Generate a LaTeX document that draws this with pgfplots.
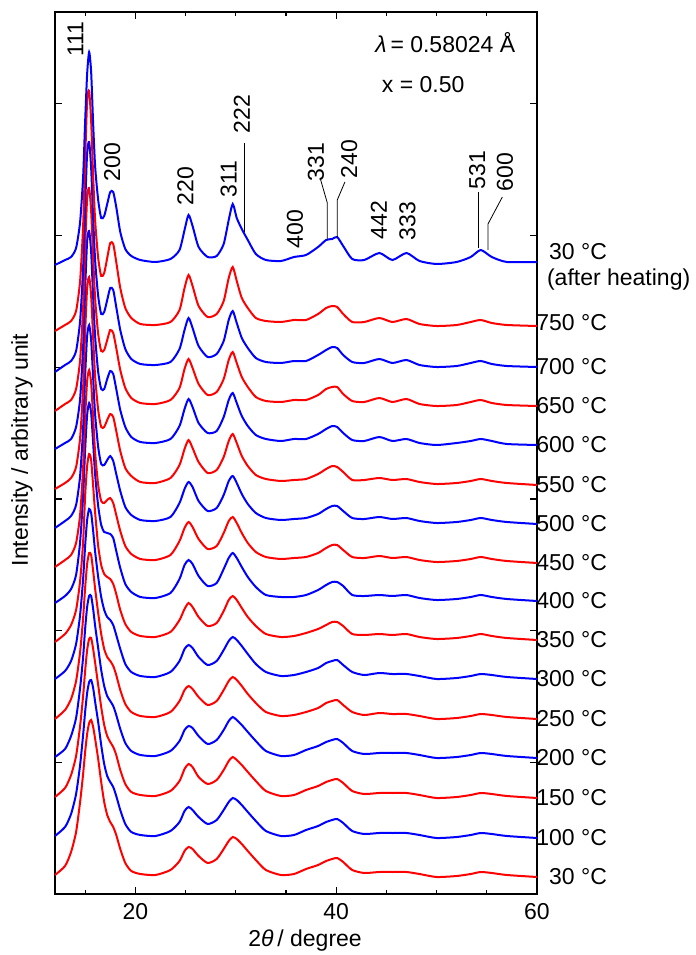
\documentclass[border=0pt]{standalone}
\usepackage{pgfplots}
\pgfplotsset{compat=1.18}
\usepackage{pgfplotstable}
\usepackage{fontspec}
\setmainfont{Liberation Sans}

% relative intensities, one column per temperature (baseline = 0 at 60 deg)
\pgfplotstableread{
x    a30h c750 c700 c650 c600 c550 c500 c450 c400 c350 c300 c250 c200 c150 c100 c30
12    -3  -5  -5  -5  -4  -4  -4  -4  -2  -2   0   0   1   1   2   2
13     2   1   2   2   2   2   3   3   5   6   8   9   9  10  11  11
13.6   5   5   6   6   6   7   8   8  12  15  18  20  22  23  24  25
14.1  14  15  16  17  18  18  19  20  26  30  35  38  40  42  44  45
14.5  40  45  46  46  46  47  48  48  59  59  64  67  70  72  73  75
14.8  85 100  99  98  98  97  96  95 105  98 100 101 101 102 103 103
15.0 140 165 160 157 155 152 148 145 151 144 133 131 129 127 126 125
15.2 188 225 214 208 204 197 188 182 186 174 159 155 151 148 145 143
15.4 210 235 225 218 214 208 199 193 198 186 170 166 162 159 156 154
15.6 190 205 199 195 193 189 184 180 188 180 166 164 162 160 158 157
15.8 138 150 149 148 148 147 146 145 158 154 148 148 149 149 150 150
16.0  95 105 106 107 108 108 109 110 126 127 127 130 132 135 136 138
16.3  62  68  71  72  73  75  77  78  95  94 102 106 110 113 116 118
16.6  44  50  53  55  56  58  60  62  76  75  82  85  88  91  93  95
16.9  46  53  55  56  56  58  59  60  69  66  69  70  72  73  74  75
17.2  58  68  67  66  66  65  64  63  68  63  62  62  62  62  62  62
17.5  70  83  79  76  74  71  68  65  67  61  59  58  57  56  56  55
17.8  70  82  77  73  71  68  63  60  63  56  54  53  52  51  51  50
18.1  55  64  60  58  56  54  50  48  50  46  44  44  43  43  42  42
18.5  30  38  37  36  35  34  33  32  33  30  30  29  29  28  28  28
19.0  13  18  18  18  18  17  17  17  17  16  15  15  15  14  14  14
19.6   6   8   8   8   8   9   9   9   9   8   7   7   7   6   6   6
20.5   2   2   3   3   3   3   4   4   4   4   3   3   3   3   3   3
22     0   1   2   2   2   2   3   3   3   3   2   2   2   2   2   2
23.5   3   4   5   6   6   7   7   8   8   8   7   7   7   7   7   7
24.4  12  16  18  18  19  20  21  22  22  20  18  18  17  17  16  16
24.9  32  38  37  37  36  36  35  35  36  31  30  29  28  29  27  26
25.3  47  51  49  47  46  45  42  41  41  37  34  33  32  34  31  30
25.7  36  40  39  38  38  37  37  36  37  33  31  30  30  31  28  28
26.3  15  20  21  22  22  23  23  24  25  23  22  22  22  21  21  21
27.2   5   9  10  11  12  12  13  14  15  14  14  14  14  14  14  14
28.1   6  12  13  14  14  15  16  17  18  17  18  18  18  18  18  18
28.8  18  25  26  27  28  28  29  30  32  29  29  29  28  28  28  28
29.3  42  48  47  46  45  44  43  42  43  40  38  38  37  37  36  36
29.7  58  59  56  54  52  51  48  46  48  44  42  42  41  41  40  40
30.1  44  45  44  43  42  42  41  40  43  40  39  39  38  38  38  38
30.6  33  28  29  29  29  29  30  30  34  32  33  33  33  33  33  33
31.2  22  18  19  19  19  19  20  20  24  23  25  25  26  26  26  26
32.0   8   8   9   9  10  10  11  11  14  14  15  16  17  17  17  17
33.0   2   5   5   5   6   6   6   6   6   6   7   7   7   7   7   7
34.5   1   4   4   4   4   4   4   4   4   3   3   3   2   2   2   2
35.8   5   6   6   6   6   5   5   5   4   4   4   4   3   3   3   3
37.0   7   6   6   6   6   6   6   6   6   7   7   7   8   8   8   8
38.2  15  12  12  11  11  11  10  10  11  11  11  11  12  12  12  12
39.0  22  18  17  17  16  16  15  15  16  15  16  16  16  16  16  16
39.6  23  20  20  19  19  19  18  18  19  18  18  18  18  18  18  18
40.1  25  19  19  19  18  18  18  18  19  18  19  19  19  19  19  19
40.7  16  12  12  12  12  13  13  13  15  14  14  14  15  15  15  15
41.6   3   4   5   5   5   5   6   6   6   6   7   7   7   7   7   7
42.8   2   4   4   4   4   5   5   5   5   5   4   4   4   4   4   4
44.3   9   8   8   8   8   7   7   7   6   6   6   6   5   5   5   5
45.6   2   4   4   4   4   5   5   5   5   5   5   5   5   5   5   5
47.0   9   7   7   7   6   6   6   6   6   6   5   5   5   5   5   5
48.3   1   2   2   2   2   3   3   3   3   3   3   3   3   3   3   3
50.0  -2   0   0   0   0   1   1   1   1   1   0   0   0   0   0   0
52.0   0   1   1   1   2   2   2   2   2   2   1   1   1   1   1   1
53.4   5   4   4   4   4   4   4   4   4   4   3   3   3   3   3   3
54.4  12   6   6   6   6   6   6   6   6   6   5   5   5   5   5   5
55.5   5   3   3   3   4   4   4   4   4   4   4   4   4   4   4   4
57.0   0   1   1   1   1   2   2   2   2   2   2   2   2   2   2   2
60     0   0   0   0   0   0   0   0   0   0   0   0   0   0   0   0
}\xrd

\begin{document}
\begin{tikzpicture}[lbl/.style={font=\fontsize{11.5}{13}\selectfont},
                    tl/.style={lbl, anchor=east, xshift=38.5pt}]
\begin{axis}[
    at={(0,0)}, anchor=south west,
    scale only axis, width=241pt, height=441pt,
    xmin=12, xmax=60, ymin=0, ymax=882,
    xtick={20,40,60}, minor xtick={15,25,30,35,45,50,55},
    ytick={131.7,263.4,395.1,526.8,658.5,790.2}, yticklabels={},
    tick align=inside,
    major tick length=3.5pt, minor tick length=2pt,
    tick style={black, line width=0.6pt},
    axis line style={line width=0.75pt},
    /pgf/number format/assume math mode=true,
    ticklabel style={font=\fontsize{11.5}{13}\selectfont},
    xticklabel style={yshift=-1pt},
    clip=false,
    every axis plot/.append style={line width=1pt, smooth, tension=0.4},
  ]

  \addplot[red]  table[x=x, y expr=\thisrow{c30}+17]   {\xrd};
  \addplot[blue] table[x=x, y expr=\thisrow{c100}+56]  {\xrd};
  \addplot[red]  table[x=x, y expr=\thisrow{c150}+96]  {\xrd};
  \addplot[blue] table[x=x, y expr=\thisrow{c200}+136] {\xrd};
  \addplot[red]  table[x=x, y expr=\thisrow{c250}+175] {\xrd};
  \addplot[blue] table[x=x, y expr=\thisrow{c300}+215] {\xrd};
  \addplot[red]  table[x=x, y expr=\thisrow{c350}+254] {\xrd};
  \addplot[blue] table[x=x, y expr=\thisrow{c400}+293] {\xrd};
  \addplot[red]  table[x=x, y expr=\thisrow{c450}+331] {\xrd};
  \addplot[blue] table[x=x, y expr=\thisrow{c500}+370] {\xrd};
  \addplot[red]  table[x=x, y expr=\thisrow{c550}+409] {\xrd};
  \addplot[blue] table[x=x, y expr=\thisrow{c600}+449] {\xrd};
  \addplot[red]  table[x=x, y expr=\thisrow{c650}+488] {\xrd};
  \addplot[blue] table[x=x, y expr=\thisrow{c700}+527] {\xrd};
  \addplot[red]  table[x=x, y expr=\thisrow{c750}+568] {\xrd};
  \addplot[blue] table[x=x, y expr=\thisrow{a30h}+632] {\xrd};

  % temperature labels
  \node[tl] at (axis cs:60,17)  {30 °C};
  \node[tl] at (axis cs:60,56)  {100 °C};
  \node[tl] at (axis cs:60,96)  {150 °C};
  \node[tl] at (axis cs:60,136) {200 °C};
  \node[tl] at (axis cs:60,175) {250 °C};
  \node[tl] at (axis cs:60,215) {300 °C};
  \node[tl] at (axis cs:60,254) {350 °C};
  \node[tl] at (axis cs:60,293) {400 °C};
  \node[tl] at (axis cs:60,331) {450 °C};
  \node[tl] at (axis cs:60,370) {500 °C};
  \node[tl] at (axis cs:60,409) {550 °C};
  \node[tl] at (axis cs:60,449) {600 °C};
  \node[tl] at (axis cs:60,488) {650 °C};
  \node[tl] at (axis cs:60,527) {700 °C};
  \node[tl] at (axis cs:60,571) {750 °C};
  \node[tl] at (axis cs:60,642) {30 °C};
  \node[lbl, anchor=west, xshift=1.5pt] at (axis cs:60,614) {(after heating)};

  % reflections
  \node[lbl, rotate=90] at (axis cs:14.04,855) {111};
  \node[lbl, rotate=90] at (axis cs:17.7,732) {200};
  \node[lbl, rotate=90] at (axis cs:25.0,708) {220};
  \node[lbl, rotate=90] at (axis cs:29.3,715) {311};
  \node[lbl, rotate=90] at (axis cs:30.6,780) {222};
  \node[lbl, rotate=90] at (axis cs:35.9,665) {400};
  \node[lbl, rotate=90] at (axis cs:38.0,732) {331};
  \node[lbl, rotate=90] at (axis cs:41.3,735) {240};
  \node[lbl, rotate=90] at (axis cs:44.25,674) {442};
  \node[lbl, rotate=90] at (axis cs:47.1,673) {333};
  \node[lbl, rotate=90] at (axis cs:54.05,724) {531};
  \node[lbl, rotate=90] at (axis cs:56.8,722) {600};
  \draw[line width=0.4pt] (axis cs:30.85,751) -- (axis cs:30.85,662);
  \draw[line width=0.4pt] (axis cs:38.46,714) -- (axis cs:39.12,691) -- (axis cs:39.12,654);
  \draw[line width=0.4pt] (axis cs:40.87,712) -- (axis cs:40.11,694) -- (axis cs:40.11,657);
  \draw[line width=0.4pt] (axis cs:54.2,702) -- (axis cs:54.2,646);
  \draw[line width=0.4pt] (axis cs:56.55,697) -- (axis cs:55.12,670) -- (axis cs:55.12,644);

  \node[lbl, anchor=west] at (axis cs:43.2,851) {{\itshape λ}\,= 0.58024 Å};
  \node[lbl, anchor=west] at (axis cs:43.86,809) {x = 0.50};

  \node[lbl, rotate=90, yshift=16.5pt] at (axis cs:12,444) {Intensity / arbitrary unit};
  \node[lbl, yshift=-23.5pt] at (axis cs:36.9,0) {2{\itshape θ}\,/ degree};
\end{axis}
\pgfresetboundingbox
\path (-27.5pt,-30.5pt) rectangle (320.5pt,447pt);
\end{tikzpicture}
\end{document}
